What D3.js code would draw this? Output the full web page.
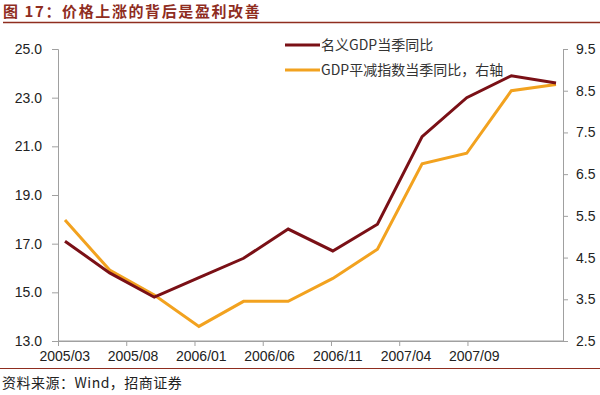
<!DOCTYPE html>
<html><head><meta charset="utf-8">
<script src="https://cdn.jsdelivr.net/npm/d3@7/dist/d3.min.js"></script>
<style>body{margin:0;background:#fff}svg{display:block}</style>
</head><body><svg id="c" width="600" height="395"></svg>
<script>
const quarters = ["2005/03","2005/06","2005/09","2005/12","2006/03","2006/06","2006/09","2006/12","2007/03","2007/06","2007/09","2007/12"];
const nominalGDP = [17.1,15.8,14.8,15.6,16.4,17.6,16.7,17.8,21.4,23.0,23.9,23.6];
const deflator = [5.4,4.2,3.6,2.85,3.45,3.45,4.0,4.7,6.75,7.0,8.5,8.65];
const xTickLabels = ["2005/03","2005/08","2006/01","2006/06","2006/11","2007/04","2007/09"];
const leftTicks = [13,15,17,19,21,23,25];
const rightTicks = [2.5,3.5,4.5,5.5,6.5,7.5,8.5,9.5];
const seriesNames = ["名义GDP当季同比","GDP平减指数当季同比，右轴"];

const svg = d3.select("#c");
const L = 58, R = 563, T = 49, B = 341;
const font = "'Liberation Sans', Arial, sans-serif";
const cjk = "'Noto Sans CJK SC', sans-serif";

// title
svg.append("text").attr("x",3).attr("y",17).attr("fill","#8f2d1f")
  .attr("font-family",cjk).attr("font-size",15).attr("font-weight","bold")
  .attr("letter-spacing",1.6)
  .text("图 17：价格上涨的背后是盈利改善");
svg.append("line").attr("x1",3).attr("x2",600).attr("y1",22.5).attr("y2",22.5)
  .attr("stroke","#8f2d1f").attr("stroke-width",1.5);

const yL = d3.scaleLinear().domain([13,25]).range([B,T]);
const yR = d3.scaleLinear().domain([2.5,9.5]).range([B,T]);
const x = d3.scalePoint().domain(quarters).range([65,556]);
// monthly category axis for labels
const xm = d3.scaleLinear().domain([0,37]).range([L,R]);

const axisColor = "#a0a0a0";
const gL = svg.append("g").attr("transform",`translate(${L},0)`)
  .call(d3.axisLeft(yL).tickValues(leftTicks).tickFormat(d3.format(".1f")).tickSize(6).tickPadding(10));
const gR = svg.append("g").attr("transform",`translate(${R},0)`)
  .call(d3.axisRight(yR).tickValues(rightTicks).tickFormat(d3.format(".1f")).tickSize(5).tickPadding(8));
const gX = svg.append("g").attr("transform",`translate(0,${B})`)
  .call(d3.axisBottom(xm).tickValues([0,5,10,15,20,25,30]).tickFormat(()=>"").tickSize(5).tickSizeOuter(0));
[gL,gR,gX].forEach(g=>{
  g.select(".domain").attr("stroke",axisColor);
  g.selectAll(".tick line").attr("stroke",axisColor);
  g.selectAll("text").attr("fill","#222").attr("font-family",font).attr("font-size",14);
});
gX.append("line").attr("x1",L).attr("x2",R).attr("stroke",axisColor);
svg.append("g").selectAll("text").data(xTickLabels).join("text")
  .attr("x",(d,i)=>xm(i*5+0.5)).attr("y",361).attr("text-anchor","middle")
  .attr("fill","#222").attr("font-family",font).attr("font-size",14).text(d=>d);

const colors = ["#7a1016","#f2a21f"];
const lineL = d3.line().x((d,i)=>x(quarters[i])).y(d=>yL(d));
const lineR = d3.line().x((d,i)=>x(quarters[i])).y(d=>yR(d));
svg.append("path").attr("d",lineR(deflator)).attr("fill","none").attr("stroke",colors[1]).attr("stroke-width",3).attr("stroke-linejoin","miter");
svg.append("path").attr("d",lineL(nominalGDP)).attr("fill","none").attr("stroke",colors[0]).attr("stroke-width",3).attr("stroke-linejoin","miter");

// legend
seriesNames.forEach((n,i)=>{
  const yy = 45 + i*25;
  svg.append("line").attr("x1",285).attr("x2",320).attr("y1",yy).attr("y2",yy).attr("stroke",colors[i]).attr("stroke-width",3);
  svg.append("text").attr("x",321).attr("y",yy+5).attr("fill","#333")
    .attr("font-family",cjk).attr("font-size",14).text(n);
});

// footer
svg.append("line").attr("x1",0).attr("x2",600).attr("y1",368.5).attr("y2",368.5).attr("stroke","#8f2d1f").attr("stroke-width",1.2);
svg.append("text").attr("x",2).attr("y",388).attr("fill","#222").attr("font-family",cjk).attr("font-size",14).attr("letter-spacing",0.5).text("资料来源：Wind，招商证券");
</script></body></html>
